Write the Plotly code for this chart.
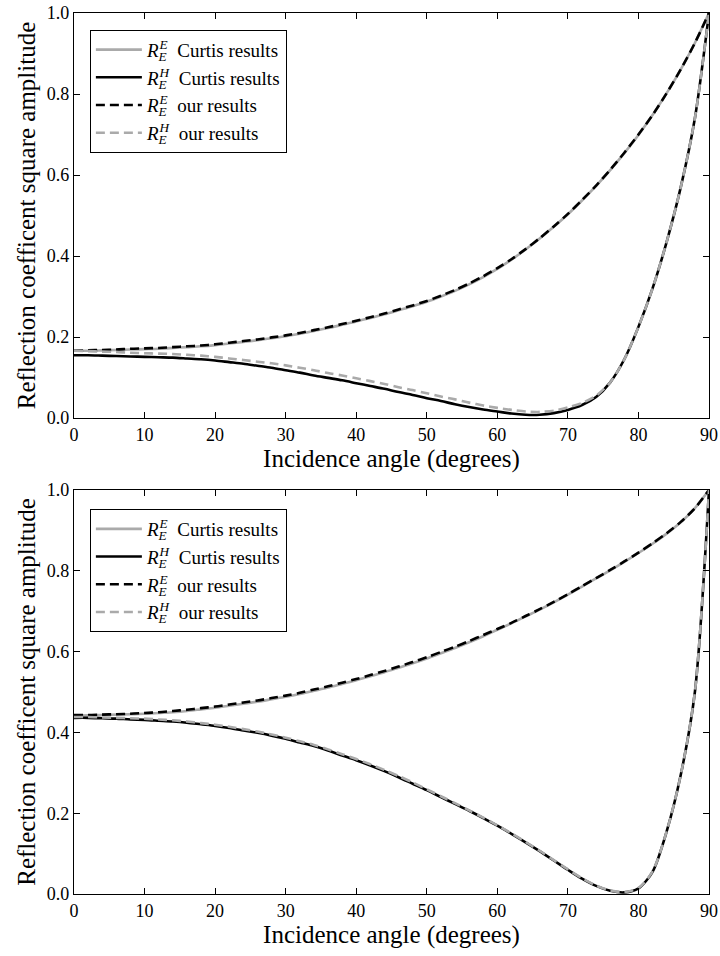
import plotly.graph_objects as go

# ---------------- data ----------------
angles = list(range(0, 91, 2))

# top panel
top_re_curtis = [0.166, 0.166, 0.167, 0.168, 0.169, 0.170, 0.171, 0.173, 0.175, 0.177,
                 0.180, 0.184, 0.188, 0.192, 0.197, 0.202, 0.208, 0.215, 0.222, 0.230,
                 0.238, 0.247, 0.256, 0.266, 0.276, 0.287, 0.300, 0.314, 0.330, 0.348,
                 0.368, 0.391, 0.416, 0.443, 0.472, 0.503, 0.537, 0.573, 0.612, 0.654,
                 0.699, 0.748, 0.802, 0.861, 0.926, 1.000]
top_rh_curtis = [0.155, 0.155, 0.154, 0.153, 0.152, 0.151, 0.150, 0.149, 0.147, 0.145,
                 0.142, 0.138, 0.134, 0.129, 0.124, 0.118, 0.112, 0.105, 0.099, 0.093,
                 0.086, 0.079, 0.072, 0.064, 0.057, 0.049, 0.042, 0.034, 0.027, 0.021,
                 0.016, 0.011, 0.008, 0.008, 0.012, 0.020, 0.032, 0.052, 0.088, 0.145,
                 0.225, 0.320, 0.435, 0.570, 0.740, 1.000]
top_re_ours = [0.166, 0.167, 0.168, 0.169, 0.171, 0.172, 0.173, 0.175, 0.177, 0.179,
               0.182, 0.186, 0.190, 0.194, 0.199, 0.204, 0.210, 0.217, 0.224, 0.232,
               0.240, 0.249, 0.258, 0.268, 0.278, 0.289, 0.302, 0.316, 0.332, 0.350,
               0.370, 0.392, 0.417, 0.444, 0.473, 0.504, 0.538, 0.574, 0.613, 0.655,
               0.700, 0.748, 0.802, 0.861, 0.926, 1.000]
top_rh_ours = [0.166, 0.165, 0.164, 0.163, 0.161, 0.160, 0.159, 0.158, 0.156, 0.154,
               0.151, 0.147, 0.143, 0.139, 0.135, 0.130, 0.124, 0.118, 0.111, 0.105,
               0.098, 0.091, 0.084, 0.076, 0.069, 0.061, 0.053, 0.046, 0.038, 0.031,
               0.025, 0.020, 0.016, 0.015, 0.018, 0.026, 0.037, 0.055, 0.088, 0.145,
               0.225, 0.320, 0.435, 0.570, 0.740, 1.000]

# bottom panel
bot_re_curtis = [0.442, 0.442, 0.443, 0.444, 0.445, 0.446, 0.448, 0.450, 0.453, 0.457,
                 0.461, 0.466, 0.471, 0.476, 0.482, 0.488, 0.495, 0.503, 0.511, 0.520,
                 0.529, 0.539, 0.549, 0.560, 0.571, 0.583, 0.596, 0.609, 0.623, 0.638,
                 0.654, 0.670, 0.687, 0.704, 0.722, 0.741, 0.761, 0.781, 0.801, 0.822,
                 0.844, 0.867, 0.892, 0.920, 0.955, 1.000]
bot_rh_curtis = [0.436, 0.436, 0.435, 0.434, 0.432, 0.431, 0.429, 0.427, 0.424, 0.420,
                 0.416, 0.411, 0.405, 0.399, 0.392, 0.384, 0.375, 0.366, 0.355, 0.343,
                 0.331, 0.318, 0.304, 0.289, 0.273, 0.257, 0.240, 0.223, 0.206, 0.188,
                 0.169, 0.149, 0.128, 0.106, 0.083, 0.060, 0.038, 0.020, 0.008, 0.004,
                 0.014, 0.055, 0.155, 0.295, 0.500, 1.000]
bot_re_ours = [0.443, 0.443, 0.444, 0.445, 0.446, 0.448, 0.450, 0.453, 0.456, 0.460,
               0.464, 0.469, 0.474, 0.479, 0.485, 0.491, 0.498, 0.506, 0.514, 0.523,
               0.532, 0.542, 0.552, 0.563, 0.574, 0.586, 0.599, 0.612, 0.626, 0.641,
               0.656, 0.671, 0.688, 0.705, 0.723, 0.742, 0.762, 0.782, 0.802, 0.823,
               0.845, 0.868, 0.893, 0.921, 0.955, 1.000]
bot_rh_ours = [0.438, 0.438, 0.437, 0.436, 0.435, 0.434, 0.432, 0.430, 0.427, 0.423,
               0.419, 0.414, 0.408, 0.402, 0.395, 0.387, 0.378, 0.369, 0.358, 0.346,
               0.334, 0.321, 0.307, 0.292, 0.276, 0.259, 0.242, 0.225, 0.207, 0.189,
               0.170, 0.150, 0.129, 0.107, 0.084, 0.061, 0.039, 0.021, 0.009, 0.005,
               0.015, 0.056, 0.155, 0.295, 0.500, 1.000]

x_ticks = [0, 10, 20, 30, 40, 50, 60, 70, 80, 90]
y_ticks = [0.0, 0.2, 0.4, 0.6, 0.8, 1.0]
y_tick_text = ["0.0", "0.2", "0.4", "0.6", "0.8", "1.0"]

name_ee = "<i>R</i><sub style=\"letter-spacing:-7px\"><i>E</i></sub><sup><i>E</i></sup>"
name_eh = "<i>R</i><sub style=\"letter-spacing:-7px\"><i>E</i></sub><sup><i>H</i></sup>"
labels = [name_ee + "  Curtis results", name_eh + "  Curtis results",
          name_ee + "  our results", name_eh + "  our results"]

GREY = "#aaaaaa"
BLACK = "#000000"
FONT = "Liberation Serif, Times New Roman, Times, serif"
DASH = "9px,5px"

# ---------------- figure ----------------
fig = go.Figure()

panels = [
    ("x", "y", "legend", [top_re_curtis, top_rh_curtis, top_re_ours, top_rh_ours]),
    ("x2", "y2", "legend2", [bot_re_curtis, bot_rh_curtis, bot_re_ours, bot_rh_ours]),
]
styles = [(GREY, "solid"), (BLACK, "solid"), (BLACK, DASH), (GREY, DASH)]

for xa, ya, lg, series in panels:
    for s, (col, dash), lab in zip(series, styles, labels):
        fig.add_trace(go.Scatter(
            x=angles, y=s, mode="lines", name=lab,
            line=dict(color=col, width=2.6, dash=dash, shape="spline", smoothing=0.8),
            xaxis=xa, yaxis=ya, legend=lg,
        ))

axis_common = dict(
    showline=True, linecolor="black", linewidth=1.2, mirror="ticks",
    ticks="inside", ticklen=6, tickwidth=1.2, tickcolor="black",
    showgrid=False, zeroline=False, automargin=False,
    tickfont=dict(family=FONT, size=18, color="black"),
)
xtitle = dict(text="Incidence angle (degrees)", font=dict(family=FONT, size=25, color="black"), standoff=2)
ytitle = dict(text="Reflection coefficent square amplitude", font=dict(family=FONT, size=25, color="black"), standoff=4)

legend_common = dict(
    xanchor="left", yanchor="top", bordercolor="black", borderwidth=1, bgcolor="white",
    font=dict(family=FONT, size=19, color="black"), tracegroupgap=0, itemwidth=46,
)

fig.update_layout(
    template="none",
    width=720, height=956,
    margin=dict(l=74, r=11, t=13, b=62),
    paper_bgcolor="white", plot_bgcolor="white",
    font=dict(family=FONT, color="black"),
    xaxis=dict(domain=[0, 1], range=[0, 90], tickvals=x_ticks, anchor="y", title=xtitle, **axis_common),
    yaxis=dict(domain=[0.5403, 1.0], range=[0, 1], tickvals=y_ticks, ticktext=y_tick_text,
               anchor="x", title=ytitle, **axis_common),
    xaxis2=dict(domain=[0, 1], range=[0, 90], tickvals=x_ticks, anchor="y2", title=xtitle, **axis_common),
    yaxis2=dict(domain=[0.0, 0.4586], range=[0, 1], tickvals=y_ticks, ticktext=y_tick_text,
                anchor="x2", title=ytitle, **axis_common),
    legend=dict(x=0.025, y=0.981, **legend_common),
    legend2=dict(x=0.025, y=0.437, **legend_common),
    showlegend=True,
)

fig.write_html(
    "out.html",
    config={"displayModeBar": False},
    post_script="document.body.style.margin='0px';document.body.style.overflow='hidden';",
)
